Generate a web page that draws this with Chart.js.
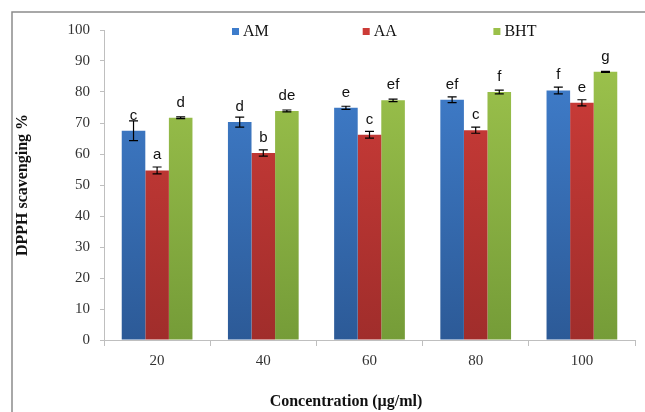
<!DOCTYPE html>
<html>
<head>
<meta charset="utf-8">
<script src="https://cdn.jsdelivr.net/npm/chart.js@4/dist/chart.umd.min.js"></script>
<style>
html,body{margin:0;padding:0;background:#fff;}
#wrap{position:relative;width:645px;height:412px;}
canvas{display:block;}
</style>
</head>
<body>
<div id="wrap"><canvas id="c" width="645" height="412"></canvas></div>
<script>
const categories = ['20', '40', '60', '80', '100'];
const seriesNames = ['AM', 'AA', 'BHT'];
const amValues  = [67.5, 70.3, 74.9, 77.5, 80.5];
const aaValues  = [54.7, 60.3, 66.2, 67.7, 76.5];
const bhtValues = [71.7, 73.9, 77.3, 80.0, 86.5];
const amErrors  = [3.2, 1.6, 0.5, 0.9, 1.1];
const aaErrors  = [1.1, 1.0, 1.1, 1.0, 1.0];
const bhtErrors = [0.3, 0.3, 0.4, 0.6, 0.2];
const amLetters  = ['c', 'd', 'e', 'ef', 'f'];
const aaLetters  = ['a', 'b', 'c', 'c', 'e'];
const bhtLetters = ['d', 'de', 'ef', 'f', 'g'];
const yTicks = [0, 10, 20, 30, 40, 50, 60, 70, 80, 90, 100];

const topColors = ['#4282D2', '#D23E3A', '#A0C64E'];
const bottomColors = ['#2C5A97', '#A02D2B', '#759C38'];
const legendColors = ['#3D7CCB', '#CC3B37', '#9BC04A'];

function grad(i) {
  return function(ctx) {
    const chart = ctx.chart;
    const a = chart.chartArea;
    if (!a) return topColors[i];
    const g = chart.ctx.createLinearGradient(0, a.top, 0, a.bottom);
    g.addColorStop(0, topColors[i]);
    g.addColorStop(1, bottomColors[i]);
    return g;
  };
}

const errs = [amErrors, aaErrors, bhtErrors];
const letters = [amLetters, aaLetters, bhtLetters];

const annotPlugin = {
  id: 'annot',
  afterDatasetsDraw(chart) {
    const ctx = chart.ctx;
    const y = chart.scales.y;
    ctx.save();
    chart.data.datasets.forEach((ds, di) => {
      const meta = chart.getDatasetMeta(di);
      meta.data.forEach((bar, i) => {
        const v = ds.data[i];
        const e = errs[di][i];
        const yt = y.getPixelForValue(v + e);
        const yb = y.getPixelForValue(v - e);
        const x = bar.x;
        ctx.strokeStyle = '#000';
        ctx.lineWidth = 1.2;
        ctx.beginPath();
        ctx.moveTo(x, yt); ctx.lineTo(x, yb);
        ctx.moveTo(x - 4.5, yt); ctx.lineTo(x + 4.5, yt);
        ctx.moveTo(x - 4.5, yb); ctx.lineTo(x + 4.5, yb);
        ctx.stroke();
        ctx.fillStyle = '#111';
        ctx.font = '15px "Liberation Sans", Arial, sans-serif';
        ctx.textAlign = 'center';
        ctx.textBaseline = 'alphabetic';
        ctx.fillText(letters[di][i], x, y.getPixelForValue(v) - 11);
      });
    });
    ctx.restore();
  },
  afterDraw(chart) {
    const ctx = chart.ctx;
    ctx.save();
    // outer frame
    ctx.strokeStyle = '#8c8c8c';
    ctx.lineWidth = 1.5;
    ctx.beginPath();
    ctx.moveTo(12, 420); ctx.lineTo(12, 12); ctx.lineTo(660, 12);
    ctx.stroke();
    // legend
    ctx.font = '16px "Liberation Serif", "Times New Roman", serif';
    ctx.textBaseline = 'middle';
    ctx.textAlign = 'left';
    chart.data.datasets.forEach((ds, i) => {
      const x0 = 232 + i * 130.7;
      ctx.fillStyle = legendColors[i];
      ctx.fillRect(x0, 28, 7, 7);
      ctx.fillStyle = '#111';
      ctx.fillText(ds.label, x0 + 11, 32);
    });
    // x title
    ctx.font = 'bold 16px "Liberation Serif", "Times New Roman", serif';
    ctx.textAlign = 'center';
    ctx.fillText('Concentration (\u00b5g/ml)', 346, 402);
    ctx.restore();
  }
};

new Chart(document.getElementById('c'), {
  type: 'bar',
  data: {
    labels: categories,
    datasets: [
      { label: seriesNames[0], data: amValues, backgroundColor: grad(0) },
      { label: seriesNames[1], data: aaValues, backgroundColor: grad(1) },
      { label: seriesNames[2], data: bhtValues, backgroundColor: grad(2) }
    ]
  },
  options: {
    responsive: false,
    animation: false,
    layout: { padding: { top: 30, right: 10, left: 0, bottom: 0 } },
    datasets: { bar: { categoryPercentage: 0.666, barPercentage: 1.0, borderWidth: 0 } },
    plugins: { legend: { display: false }, tooltip: { enabled: false } },
    scales: {
      x: {
        offset: true,
        grid: { display: true, offset: true, drawOnChartArea: false, drawTicks: true, tickLength: 6, color: '#bfbfbf' },
        border: { color: '#bfbfbf', width: 1 },
        ticks: { color: '#333', padding: 6, font: { family: '"Liberation Serif", "Times New Roman", serif', size: 15 } },
        afterFit(s) { s.height = 72; }
      },
      y: {
        min: 0, max: 100,
        afterBuildTicks(s) { s.ticks = yTicks.map(v => ({ value: v })); },
        grid: { display: true, drawOnChartArea: false, drawTicks: true, tickLength: 4, color: '#bfbfbf' },
        border: { color: '#bfbfbf', width: 1 },
        ticks: { color: '#333', padding: 10, font: { family: '"Liberation Serif", "Times New Roman", serif', size: 15 } },
        title: { display: true, text: 'DPPH scavenging %', color: '#111', padding: { top: 13, bottom: 0 },
                 font: { family: '"Liberation Serif", "Times New Roman", serif', size: 16, weight: 'bold' } },
        afterFit(s) { s.width = 104; }
      }
    }
  },
  plugins: [annotPlugin]
});
</script>
</body>
</html>
